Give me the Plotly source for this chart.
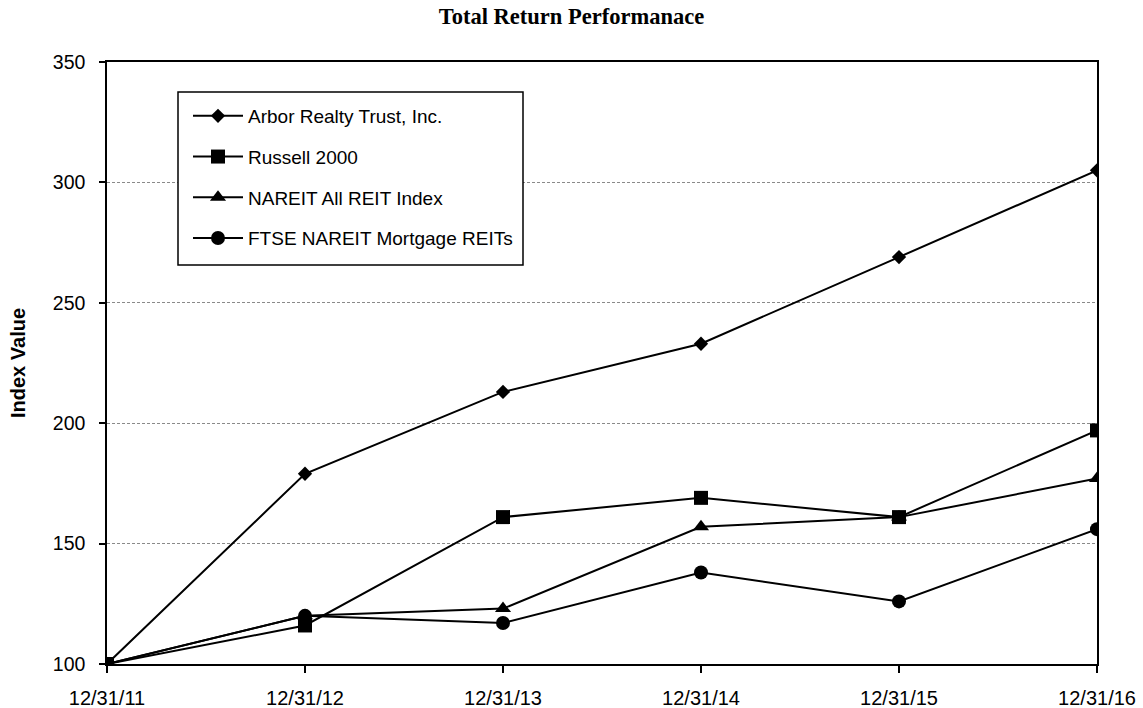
import plotly.graph_objects as go

dates = ["12/31/11", "12/31/12", "12/31/13", "12/31/14", "12/31/15", "12/31/16"]
arbor = [100, 179, 213, 233, 269, 305]
russell = [100, 116, 161, 169, 161, 197]
nareit = [100, 120, 123, 157, 161, 177]
ftse = [100, 120, 117, 138, 126, 156]
y_ticks = [100, 150, 200, 250, 300, 350]

series = [
    ("Arbor Realty Trust, Inc.", arbor, "diamond", 11),
    ("Russell 2000", russell, "square", 14),
    ("NAREIT All REIT Index", nareit, "triangle-up", 14),
    ("FTSE NAREIT Mortgage REITs", ftse, "circle", 14),
]

xpos = list(range(len(dates)))
fig = go.Figure()
for i, (name, vals, sym, sz) in enumerate(series):
    fig.add_trace(go.Scatter(
        x=xpos, y=vals, name=name, mode="lines+markers",
        line=dict(color="black", width=2),
        marker=dict(symbol=sym, size=sz, color="black"),
        legendgroup=f"g{i}",
    ))

font_sans = "Liberation Sans, Arial, sans-serif"
fig.update_layout(
    width=1143, height=708,
    margin=dict(l=107, r=46, t=62, b=44, autoexpand=False),
    paper_bgcolor="white", plot_bgcolor="white",
    title=dict(text="<b>Total Return Performanace</b>", x=0.5, xref="container",
               y=1 - 16 / 708, yref="container", yanchor="middle", xanchor="center",
               font=dict(family="Liberation Serif, Times New Roman, serif", size=22.5, color="black")),
    font=dict(family=font_sans, color="black"),
    showlegend=True,
    legend=dict(x=(188 - 107) / 990, y=1 - (97 - 62) / 602, xanchor="left", yanchor="top",
                bgcolor="rgba(0,0,0,0)", borderwidth=0,
                traceorder="grouped", tracegroupgap=13,
                font=dict(family=font_sans, size=19, color="black"),
                itemwidth=50),
    shapes=[dict(type="rect", xref="paper", yref="paper",
                 x0=(178 - 107) / 990, x1=(523 - 107) / 990,
                 y0=1 - (265 - 62) / 602, y1=1 - (92 - 62) / 602,
                 line=dict(color="black", width=1.5), fillcolor="white", layer="above")],
)
fig.update_xaxes(
    range=[0, 5], tickmode="array", tickvals=xpos, ticktext=dates,
    showgrid=False, zeroline=False, automargin=False,
    showline=True, linecolor="black", linewidth=1.5, mirror=True,
    ticks="outside", ticklen=7, tickwidth=1.5, tickcolor="black",
    ticklabelstandoff=8,
    tickfont=dict(family=font_sans, size=20, color="black"),
)
fig.update_yaxes(
    range=[100, 350], tickmode="array", tickvals=y_ticks,
    showgrid=True, gridcolor="#8a8a8a", gridwidth=1, griddash="3px,2px",
    zeroline=False, automargin=False,
    showline=True, linecolor="black", linewidth=1.5, mirror=True,
    ticks="outside", ticklen=6, tickwidth=1.5, tickcolor="black",
    ticklabelstandoff=10,
    tickfont=dict(family=font_sans, size=19.5, color="black"),
    title=dict(text="<b>Index Value</b>", standoff=22,
               font=dict(family=font_sans, size=20, color="black")),
)

fig.write_html("out.html", config={"displayModeBar": False},
               post_script="document.body.style.margin='0';")
